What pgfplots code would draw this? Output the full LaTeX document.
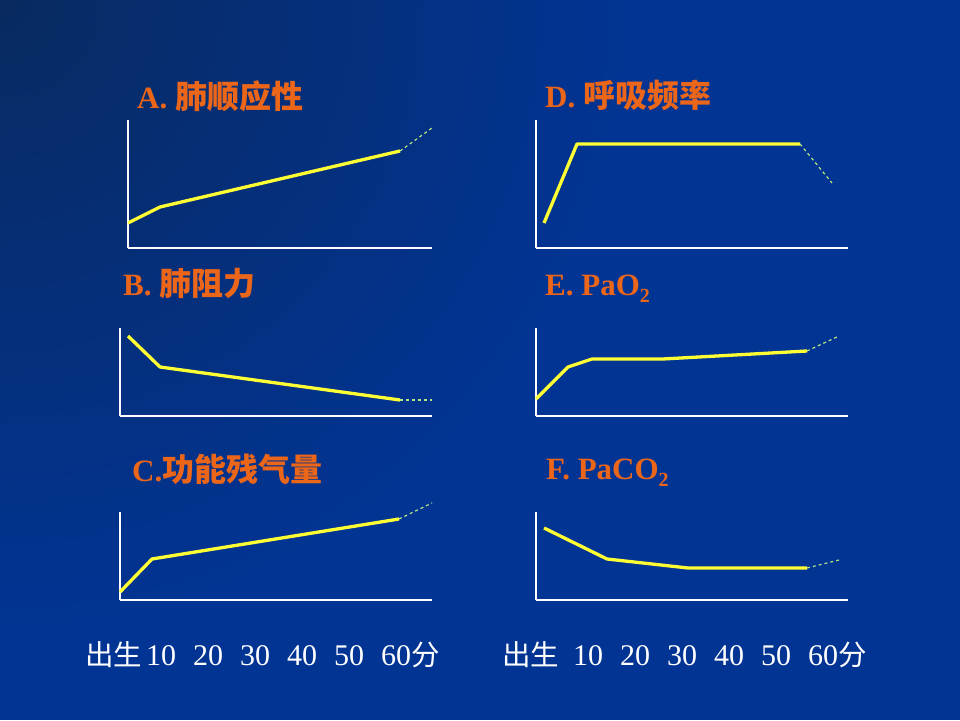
\documentclass[border=0pt]{standalone}
\usepackage{fontspec}
\setmainfont{Liberation Serif}
\newfontfamily\cjk{Noto Sans CJK SC}
\usepackage{pgfplots}
\pgfplotsset{compat=1.18}
\definecolor{bgblue}{RGB}{2,52,148}
\definecolor{bgdark}{RGB}{8,42,96}
\definecolor{ttlorange}{RGB}{236,102,26}
\definecolor{curve}{RGB}{255,255,51}
\definecolor{dashc}{RGB}{185,232,130}
\pgfplotsset{
  panel/.style={anchor=south west, scale only axis, clip=false,
    axis lines=left, axis line style={white, line width=1.3pt, -},
    xtick=\empty, ytick=\empty, xmin=0, ymin=0},
  solidc/.style={curve, line width=3.3pt, line join=round, no marks},
  dashcurve/.style={dashc, line width=1.2pt, dash pattern=on 3pt off 3pt, no marks},
}
\newcommand{\ttl}[1]{\fontsize{31}{36}\selectfont\bfseries #1}
\newcommand{\cj}[1]{{\cjk\fontsize{32}{36}\selectfont\bfseries #1}}
\newcommand{\sub}[1]{\raisebox{-0.22em}{\fontsize{20}{20}\selectfont\bfseries #1}}
\begin{document}
\begin{tikzpicture}
\useasboundingbox (0pt,0pt) rectangle (960pt,720pt);
\fill[bgblue] (0pt,0pt) rectangle (960pt,720pt);
\begin{scope}
\clip (0pt,0pt) rectangle (960pt,720pt);
\shade[inner color=bgdark, outer color=bgblue] (0pt,720pt) circle (640pt);
\end{scope}

% Titles
\node[anchor=base west, text=ttlorange, inner sep=0] at (137pt,611pt) {\ttl{A. \cj{肺顺应性}}};
\node[anchor=base west, text=ttlorange, inner sep=0] at (545pt,612pt) {\ttl{D. \cj{呼吸频率}}};
\node[anchor=base west, text=ttlorange, inner sep=0] at (123pt,424pt) {\ttl{B. \cj{肺阻力}}};
\node[anchor=base west, text=ttlorange, inner sep=0] at (545pt,424pt) {\ttl{E. PaO\sub{2}}};
\node[anchor=base west, text=ttlorange, inner sep=0] at (132pt,238pt) {\ttl{C.\cj{功能残气量}}};
\node[anchor=base west, text=ttlorange, inner sep=0] at (546pt,240pt) {\ttl{F. PaCO\sub{2}}};

% A
\begin{axis}[panel, at={(128pt,472pt)}, width=304pt, height=128pt, xmax=304, ymax=128]
\addplot[solidc] coordinates {(0,25) (32,41) (272,97)};
\addplot[dashcurve] coordinates {(272,97) (304,120)};
\end{axis}
% B
\begin{axis}[panel, at={(120pt,304pt)}, width=312pt, height=88pt, xmax=312, ymax=88]
\addplot[solidc] coordinates {(8,80) (40,49) (280,16)};
\addplot[dashcurve] coordinates {(280,16) (312,16)};
\end{axis}
% C
\begin{axis}[panel, at={(120pt,120pt)}, width=312pt, height=88pt, xmax=312, ymax=88]
\addplot[solidc] coordinates {(0,8) (32,41) (279,81)};
\addplot[dashcurve] coordinates {(279,81) (312,97)};
\end{axis}
% D
\begin{axis}[panel, at={(536pt,472pt)}, width=312pt, height=128pt, xmax=312, ymax=128]
\addplot[solidc] coordinates {(8,25) (41,104) (264,104)};
\addplot[dashcurve] coordinates {(264,104) (296,65)};
\end{axis}
% E
\begin{axis}[panel, at={(536pt,304pt)}, width=312pt, height=88pt, xmax=312, ymax=88]
\addplot[solidc] coordinates {(0,17) (32,49) (56,57) (127,57) (271,65)};
\addplot[dashcurve] coordinates {(271,65) (303,80)};
\end{axis}
% F
\begin{axis}[panel, at={(536pt,120pt)}, width=312pt, height=88pt, xmax=312, ymax=88]
\addplot[solidc] coordinates {(8,72) (71,41) (152,32) (271,32)};
\addplot[dashcurve] coordinates {(271,32) (303,40)};
\end{axis}

% time labels
\node[anchor=base west, text=white, inner sep=0] at (85pt,55pt)
  {\fontsize{30}{36}\selectfont{\cjk\fontsize{28.5}{34}\selectfont 出生}\hspace{4pt}10\hspace{17pt}20\hspace{17pt}30\hspace{17pt}40\hspace{17pt}50\hspace{17pt}60{\cjk\fontsize{28.5}{34}\selectfont 分}};
\node[anchor=base west, text=white, inner sep=0] at (502pt,55pt)
  {\fontsize{30}{36}\selectfont{\cjk\fontsize{28.5}{34}\selectfont 出生}\hspace{14pt}10\hspace{17pt}20\hspace{17pt}30\hspace{17pt}40\hspace{17pt}50\hspace{17pt}60{\cjk\fontsize{28.5}{34}\selectfont 分}};
\end{tikzpicture}
\end{document}
